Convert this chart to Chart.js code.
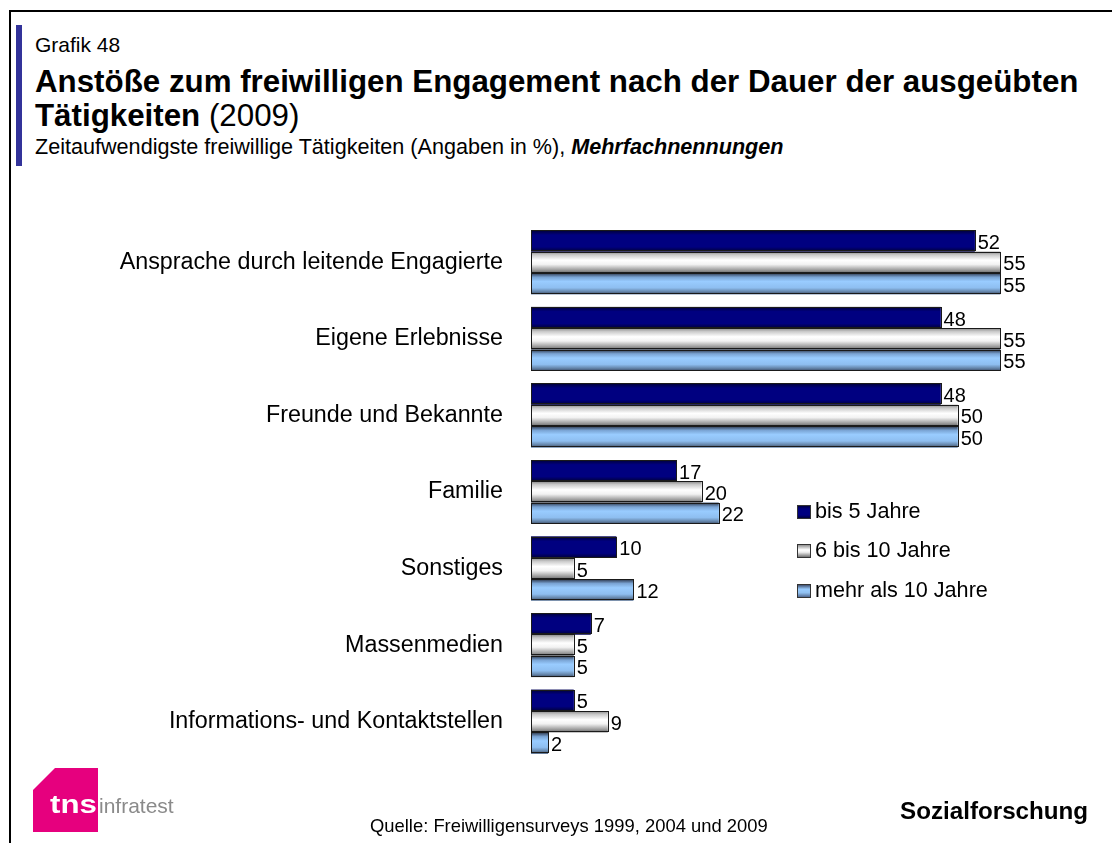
<!DOCTYPE html>
<html>
<head>
<meta charset="utf-8">
<script src="https://cdn.jsdelivr.net/npm/chart.js@4/dist/chart.umd.min.js"></script>
<style>
  html, body { margin: 0; padding: 0; background: #fff; }
  body { width: 1112px; height: 843px; position: relative; overflow: hidden;
         font-family: "Liberation Sans", Arial, sans-serif; color: #000; }
  #frame { position: absolute; left: 9px; top: 10px; width: 1120px; height: 850px;
           border-left: 2px solid #000; border-top: 2px solid #000; }
  #accent { position: absolute; left: 16px; top: 25px; width: 6px; height: 141px; background: #33339a; }
  .t { position: absolute; left: 35px; white-space: nowrap; }
  #grafik { top: 33px; font-size: 21px; }
  #title { top: 65px; font-size: 31.3px; line-height: 34px; font-weight: bold; }
  #title span { font-weight: normal; }
  #sub { top: 134px; font-size: 21.6px; }
  #chart { position: absolute; left: 0; top: 0; }
  .leg { position: absolute; left: 797px; font-size: 21.6px; white-space: nowrap; }
  .leg i { display: inline-block; width: 14px; height: 14px; border: 1px solid #333;
           vertical-align: -1px; margin-right: 4px; box-sizing: border-box; }
  #logo { position: absolute; left: 33px; top: 768px; width: 65px; height: 64px; background: #e6007e;
          clip-path: polygon(22px 0, 100% 0, 100% 100%, 0 100%, 0 22px); }
  #tns { position: absolute; left: 50px; top: 790px; font-size: 25px; font-weight: bold; color: #fff;
         transform: scaleX(1.25); transform-origin: left top; }
  #infra { position: absolute; left: 99px; top: 794px; font-size: 21px; color: #8a8a8a; }
  #quelle { position: absolute; left: 370px; top: 815px; font-size: 18.4px; }
  #sozial { position: absolute; left: 900px; top: 797px; font-size: 24.2px; font-weight: bold; }
</style>
</head>
<body>
<div id="frame"></div>
<div id="accent"></div>
<div class="t" id="grafik">Grafik 48</div>
<div class="t" id="title">Anstöße zum freiwilligen Engagement nach der Dauer der ausgeübten<br>Tätigkeiten <span>(2009)</span></div>
<div class="t" id="sub">Zeitaufwendigste freiwillige Tätigkeiten (Angaben in %), <b><i>Mehrfachnennungen</i></b></div>

<canvas id="chart" width="1112" height="843"></canvas>

<div class="leg" style="top:498px"><i style="background:linear-gradient(#000040,#000080 25%,#000080 75%,#000040)"></i>bis 5 Jahre</div>
<div class="leg" style="top:537px"><i style="background:linear-gradient(#909090,#fff 40%,#eee 60%,#707070)"></i>6 bis 10 Jahre</div>
<div class="leg" style="top:577px"><i style="background:linear-gradient(#405070,#99ccff 35%,#90c0f0 65%,#506890)"></i>mehr als 10 Jahre</div>

<div id="logo"></div>
<div id="tns">tns</div>
<div id="infra">infratest</div>
<div id="quelle">Quelle: Freiwilligensurveys 1999, 2004 und 2009</div>
<div id="sozial">Sozialforschung</div>

<script>
const categories = [
  'Ansprache durch leitende Engagierte',
  'Eigene Erlebnisse',
  'Freunde und Bekannte',
  'Familie',
  'Sonstiges',
  'Massenmedien',
  'Informations- und Kontaktstellen'
];
const seriesNames = ['bis 5 Jahre', '6 bis 10 Jahre', 'mehr als 10 Jahre'];
const upTo5 = [52, 48, 48, 17, 10, 7, 5];
const from6to10 = [55, 55, 50, 20, 5, 5, 9];
const over10 = [55, 55, 50, 22, 12, 5, 2];

// vertical shading for each series, top to bottom
const shades = [
  [[0, '#000038'], [0.22, '#000080'], [0.78, '#000080'], [1, '#000038']],
  [[0, '#888888'], [0.15, '#c8c8c8'], [0.4, '#ffffff'], [0.6, '#f2f2f2'], [0.85, '#a0a0a0'], [1, '#6a6a6a']],
  [[0, '#2a3448'], [0.2, '#7aa4d4'], [0.4, '#99ccff'], [0.7, '#8ebef0'], [0.88, '#6484a8'], [1, '#3c4c68']]
];

const shadedBars = {
  id: 'shadedBars',
  afterDatasetsDraw(chart) {
    const ctx = chart.ctx;
    ctx.save();
    chart.data.datasets.forEach((ds, di) => {
      const meta = chart.getDatasetMeta(di);
      meta.data.forEach((bar, i) => {
        const top = bar.y - bar.height / 2;
        const g = ctx.createLinearGradient(0, top, 0, top + bar.height);
        shades[di].forEach(s => g.addColorStop(s[0], s[1]));
        ctx.fillStyle = g;
        ctx.fillRect(bar.base, top, bar.x - bar.base, bar.height);
        ctx.strokeStyle = '#1a1a1a';
        ctx.lineWidth = 1;
        ctx.strokeRect(Math.round(bar.base) + 0.5, Math.round(top) + 0.5,
                       Math.round(bar.x - bar.base), Math.round(bar.height) - 1);
        // value label just right of the bar end
        ctx.fillStyle = '#000';
        ctx.font = '20px "Liberation Sans", Arial, sans-serif';
        ctx.textBaseline = 'alphabetic';
        ctx.textAlign = 'left';
        ctx.fillText(ds.data[i], bar.x + 3, bar.y + 8);
      });
    });
    ctx.restore();
  }
};

new Chart(document.getElementById('chart'), {
  type: 'bar',
  data: {
    labels: categories,
    datasets: [
      { label: seriesNames[0], data: upTo5, backgroundColor: '#000080' },
      { label: seriesNames[1], data: from6to10, backgroundColor: '#ffffff' },
      { label: seriesNames[2], data: over10, backgroundColor: '#99ccff' }
    ]
  },
  options: {
    indexAxis: 'y',
    responsive: false,
    animation: false,
    events: [],
    layout: { padding: { left: 0, right: 69, top: 224, bottom: 83 } },
    datasets: { bar: { barPercentage: 1, categoryPercentage: 0.835 } },
    plugins: { legend: { display: false }, tooltip: { enabled: false } },
    scales: {
      x: { display: false, min: 0, max: 60 },
      y: {
        grid: { display: false, drawTicks: false },
        border: { display: false },
        ticks: { color: '#000', padding: 28, font: { size: 23.3, family: '"Liberation Sans", Arial, sans-serif' } },
        afterFit(scale) { scale.width = 531; }
      }
    }
  },
  plugins: [shadedBars]
});
</script>
</body>
</html>
